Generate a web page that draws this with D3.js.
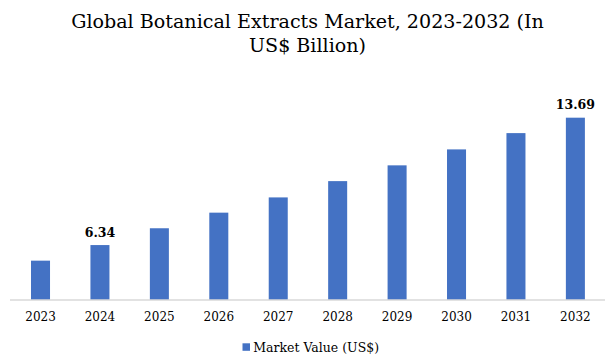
<!DOCTYPE html>
<html>
<head>
<meta charset="utf-8">
<script src="https://cdn.jsdelivr.net/npm/d3@7"></script>
<style>
  html, body { margin: 0; padding: 0; background: #fff; }
  svg { display: block; }
</style>
</head>
<body>
<svg id="chart" width="616" height="361"></svg>
<script>
const titleLines = ["Global Botanical Extracts Market, 2023-2032 (In", "US$ Billion)"];
const years = ["2023", "2024", "2025", "2026", "2027", "2028", "2029", "2030", "2031", "2032"];
const values = [5.44, 6.34, 7.31, 8.21, 9.09, 10.03, 10.94, 11.86, 12.80, 13.69];
const labeledYears = ["2024", "2032"];
const seriesName = "Market Value (US$)";
const yDomain = [3.17, 16];

const svg = d3.select("#chart");
const wideSerif = "'DejaVu Serif', Georgia, serif";
const color = "#4472C4";

const x = d3.scaleBand().domain(years).range([10.8, 605.1]).paddingInner(0.68).paddingOuter(0.34);
const y = d3.scaleLinear().domain(yDomain).range([300, 300 - (yDomain[1] - yDomain[0]) * 17.33]);

// Title
const titleSel = svg.append("g").selectAll("text").data(titleLines).join("text")
  .attr("x", 307.5).attr("y", (d, i) => 28.3 + i * 23.5)
  .attr("text-anchor", "middle")
  .attr("font-family", wideSerif).attr("font-size", 20).attr("fill", "#000")
  .text(d => d);
const firstLen = titleSel.node().getComputedTextLength();
titleSel.attr("font-size", 20 * 473 / firstLen);

// Bars
svg.append("g").selectAll("rect").data(years).join("rect")
  .attr("x", d => x(d)).attr("width", x.bandwidth())
  .attr("y", (d, i) => y(values[i]))
  .attr("height", (d, i) => y(yDomain[0]) - y(values[i]))
  .attr("fill", color);

// Axis
const axis = svg.append("g").attr("transform", "translate(0,300)")
  .call(d3.axisBottom(x).tickSize(0).tickPadding(12).tickSizeOuter(0));
axis.select(".domain").attr("stroke", "#d9d9d9").attr("stroke-width", 1.3)
  .attr("d", "M10,0H605");
axis.selectAll("text").attr("font-family", wideSerif).attr("font-size", 12).attr("fill", "#000");

// Data labels
svg.append("g").selectAll("text").data(years.filter(d => labeledYears.includes(d))).join("text")
  .attr("x", d => x(d) + x.bandwidth() / 2)
  .attr("y", d => y(values[years.indexOf(d)]) - 8.5)
  .attr("text-anchor", "middle")
  .attr("font-family", wideSerif).attr("font-size", 12.5).attr("font-weight", "bold").attr("fill", "#000")
  .text(d => values[years.indexOf(d)].toFixed(2));

// Legend
const lg = svg.append("g");
lg.append("rect").attr("x", 242.5).attr("y", 343.3).attr("width", 7.5).attr("height", 7.5).attr("fill", color);
lg.append("text").attr("x", 253.3).attr("y", 352)
  .attr("font-family", wideSerif).attr("font-size", 12.5).attr("fill", "#000")
  .text(seriesName);
</script>
</body>
</html>
